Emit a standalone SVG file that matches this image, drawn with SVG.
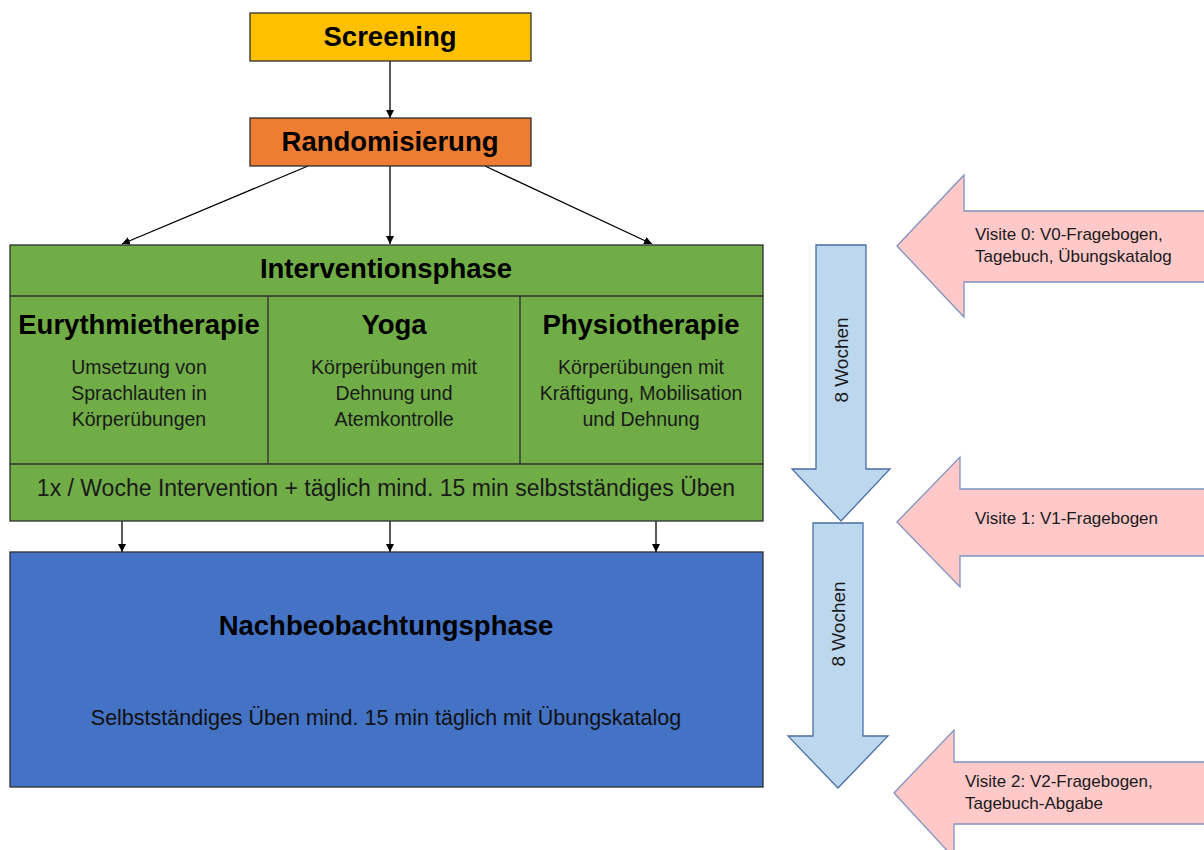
<svg xmlns="http://www.w3.org/2000/svg" width="1204" height="850" viewBox="0 0 1204 850">
<style>
.box{stroke:#2f2f2f;stroke-width:1.3}
.b{font-family:"Liberation Sans",Arial,sans-serif;font-weight:bold;font-size:27.5px;fill:#000;text-anchor:middle}
.d{font-family:"Liberation Sans",Arial,sans-serif;font-size:19.5px;fill:#1a1a1a;text-anchor:middle}
.v{font-family:"Liberation Sans",Arial,sans-serif;font-size:17px;fill:#1a1a1a}
.w{font-family:"Liberation Sans",Arial,sans-serif;font-size:19px;fill:#1a1a1a;text-anchor:middle}
.con{stroke:#000;stroke-width:1.3;fill:none;marker-end:url(#ah)}
.blue{fill:#BDD7EE;stroke:#4A6FA5;stroke-width:1.3}
.pink{fill:#FFC9C9;stroke:#7F93C0;stroke-width:1.3}
</style>
<defs>
<marker id="ah" viewBox="0 0 10 10" refX="10" refY="5" markerWidth="8" markerHeight="8" markerUnits="userSpaceOnUse" orient="auto">
<path d="M0,0 L10,5 L0,10 z" fill="#000"/>
</marker>
</defs>
<rect width="1204" height="850" fill="#fff"/>

<g id="connectors">
<line class="con" x1="390" y1="61" x2="390" y2="118"/>
<line class="con" x1="308" y1="166" x2="122" y2="244"/>
<line class="con" x1="390" y1="166" x2="390" y2="244"/>
<line class="con" x1="485" y1="166" x2="652" y2="244"/>
<line class="con" x1="122" y1="521" x2="122" y2="552"/>
<line class="con" x1="390" y1="521" x2="390" y2="552"/>
<line class="con" x1="656" y1="521" x2="656" y2="552"/>
</g>

<g id="screening">
<rect class="box" x="250" y="13" width="281" height="48" fill="#FFC000"/>
<text class="b" x="390" y="46">Screening</text>
</g>

<g id="randomisierung">
<rect class="box" x="250" y="118" width="281" height="48" fill="#ED7D31"/>
<text class="b" x="390" y="151">Randomisierung</text>
</g>

<g id="interventionsphase">
<rect class="box" x="10" y="245" width="753" height="276" fill="#70AD47"/>
<line class="box" x1="10" y1="296" x2="763" y2="296"/>
<line class="box" x1="10" y1="464" x2="763" y2="464"/>
<line class="box" x1="268" y1="296" x2="268" y2="464"/>
<line class="box" x1="520" y1="296" x2="520" y2="464"/>
<text class="b" x="386" y="278">Interventionsphase</text>
<text style="font-family:'Liberation Sans',Arial,sans-serif;font-size:23px;fill:#1a1a1a;text-anchor:middle" x="386" y="496">1x / Woche Intervention + täglich mind. 15 min selbstständiges Üben</text>
</g>

<g id="eurythmie">
<text class="b" x="139" y="334">Eurythmietherapie</text>
<text class="d" x="139" y="374">Umsetzung von</text>
<text class="d" x="139" y="400">Sprachlauten in</text>
<text class="d" x="139" y="426">Körperübungen</text>
</g>

<g id="yoga">
<text class="b" x="394" y="334">Yoga</text>
<text class="d" x="394" y="374">Körperübungen mit</text>
<text class="d" x="394" y="400">Dehnung und</text>
<text class="d" x="394" y="426">Atemkontrolle</text>
</g>

<g id="physio">
<text class="b" x="641" y="334">Physiotherapie</text>
<text class="d" x="641" y="374">Körperübungen mit</text>
<text class="d" x="641" y="400">Kräftigung, Mobilisation</text>
<text class="d" x="641" y="426">und Dehnung</text>
</g>

<g id="nachbeobachtung">
<rect class="box" x="10" y="552" width="753" height="235" fill="#4472C4"/>
<text class="b" x="386" y="635">Nachbeobachtungsphase</text>
<text style="font-family:'Liberation Sans',Arial,sans-serif;font-size:21.5px;fill:#111;text-anchor:middle" x="386" y="725">Selbstständiges Üben mind. 15 min täglich mit Übungskatalog</text>
</g>

<g id="wochen1">
<path class="blue" d="M816,245 L866,245 L866,469 L890,469 L841,521 L792,469 L816,469 Z"/>
<text class="w" transform="translate(848,360) rotate(-90)">8 Wochen</text>
</g>

<g id="wochen2">
<path class="blue" d="M813,523 L863,523 L863,736 L888,736 L838,788 L788,736 L813,736 Z"/>
<text class="w" transform="translate(845,624) rotate(-90)">8 Wochen</text>
</g>

<g id="visite0">
<path class="pink" d="M897,246 L964,175 L964,211 L1210,211 L1210,282 L964,282 L964,317 Z"/>
<text class="v" x="975" y="240">Visite 0: V0-Fragebogen,</text>
<text class="v" x="975" y="262">Tagebuch, Übungskatalog</text>
</g>

<g id="visite1">
<path class="pink" d="M897,522 L960,457 L960,489 L1210,489 L1210,556 L960,556 L960,587 Z"/>
<text class="v" x="975" y="524">Visite 1: V1-Fragebogen</text>
</g>

<g id="visite2">
<path class="pink" d="M894,793 L954,730 L954,762 L1210,762 L1210,824 L954,824 L954,858 Z"/>
<text class="v" x="965" y="787">Visite 2: V2-Fragebogen,</text>
<text class="v" x="965" y="809">Tagebuch-Abgabe</text>
</g>
</svg>
